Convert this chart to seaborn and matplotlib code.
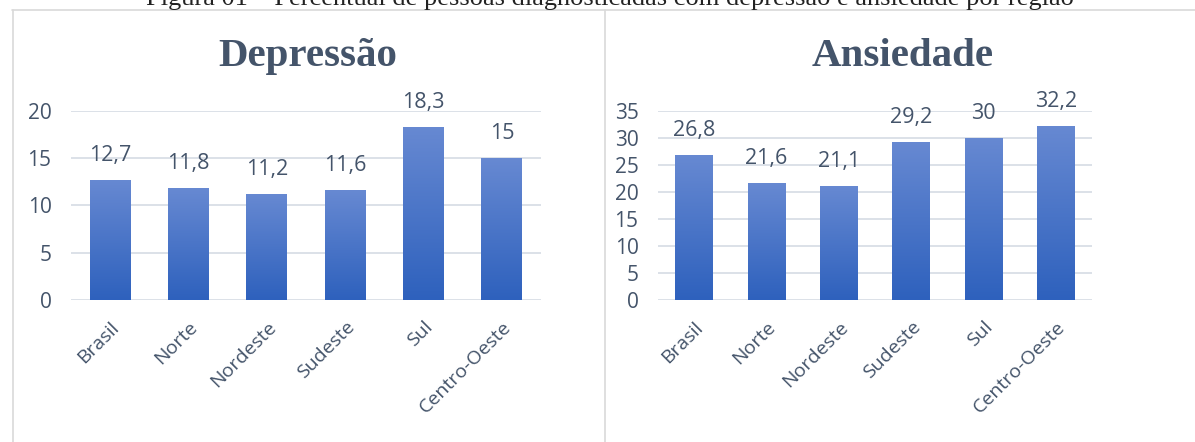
import numpy as np
import pandas as pd
import matplotlib
matplotlib.use("Agg")
import matplotlib.pyplot as plt
from matplotlib.colors import LinearSegmentedColormap
from matplotlib.lines import Line2D
import seaborn as sns

regions = ["Brasil", "Norte", "Nordeste", "Sudeste", "Sul", "Centro-Oeste"]
depressao = [12.7, 11.8, 11.2, 11.6, 18.3, 15.0]
ansiedade = [26.8, 21.6, 21.1, 29.2, 30.0, 32.2]
dep_ticks = [0, 5, 10, 15, 20]
ans_ticks = [0, 5, 10, 15, 20, 25, 30, 35]

caption = "Figura 01 – Percentual de pessoas diagnosticadas com depressão e ansiedade por região"

sns.set_theme(style="white")
plt.rcParams["font.family"] = ["Open Sans", "DejaVu Sans"]

W, H = 1195, 442
fig = plt.figure(figsize=(W / 100, H / 100), dpi=100)

text_col = "#44546A"
grid_col = "#D9DEE6"
border_col = "#D9D9D9"
grad = LinearSegmentedColormap.from_list("bar", ["#2E61BD", "#6789D2"])


def px_rect(x0, y0, x1, y1):
    return [x0 / W, 1 - y1 / H, (x1 - x0) / W, (y1 - y0) / H]


def panel(rect, title, values, ticks, title_x):
    ax = fig.add_axes(rect)
    df = pd.DataFrame({"Região": regions, "Valor": values})
    sns.barplot(data=df, x="Região", y="Valor", ax=ax, width=0.52,
                color="#4472C4", edgecolor="none", saturation=1)
    ax.set_xlabel("")
    ax.set_ylabel("")
    ax.grid(axis="y", color=grid_col, linewidth=1.3)
    ax.set_axisbelow(True)
    for s in ax.spines.values():
        s.set_visible(False)
    ax.set_yticks(ticks)
    ax.set_yticklabels([str(t) for t in ticks])
    ax.tick_params(axis="y", length=0, pad=14, labelsize=15, labelcolor=text_col)
    ax.tick_params(axis="x", length=0, pad=13, labelsize=14, labelcolor=text_col)
    for lab in ax.get_xticklabels():
        lab.set_rotation(45)
        lab.set_ha("right")
        lab.set_rotation_mode("anchor")

    # vertical gradient fill for each bar
    gimg = np.linspace(0, 1, 256).reshape(-1, 1)
    for bar in list(ax.patches):
        x0, y0 = bar.get_x(), bar.get_y()
        w, h = bar.get_width(), bar.get_height()
        bar.set_facecolor("none")
        im = ax.imshow(gimg, cmap=grad, origin="lower", aspect="auto",
                       extent=[x0, x0 + w, y0, y0 + h], zorder=2)
        im.set_clip_path(bar)
        ax.annotate(f"{h:g}".replace(".", ","), (x0 + w / 2, y0 + h),
                    xytext=(0, 10), textcoords="offset points",
                    ha="center", va="bottom", fontsize=15.5, color=text_col)
    ax.set_xlim(-0.5, len(regions) - 0.5)
    ax.set_ylim(ticks[0], ticks[-1])

    fig.text(title_x / W, 1 - 66 / H, title, ha="center", va="baseline",
             family=["Liberation Serif", "DejaVu Serif"], fontweight="bold",
             fontsize=29.5, color=text_col)
    return ax


panel(px_rect(71, 110.7, 541, 300), "Depressão", depressao, dep_ticks, 308)
panel(px_rect(658, 110.7, 1092, 300), "Ansiedade", ansiedade, ans_ticks, 903)

# chart frames
for line in [
    ([12, 1195], [9.5, 9.5]),
    ([12.5, 12.5], [9.5, 442]),
    ([604.5, 604.5], [9.5, 442]),
]:
    fig.add_artist(Line2D([x / W for x in line[0]], [1 - y / H for y in line[1]],
                          color=border_col, linewidth=1.2))

# caption line at the top edge
fig.text(610 / W, 1 - 5 / H, caption, ha="center", va="baseline",
         family=["Liberation Serif", "DejaVu Serif"], fontsize=19, color="#222222")

fig.savefig("out.png", dpi=100)
